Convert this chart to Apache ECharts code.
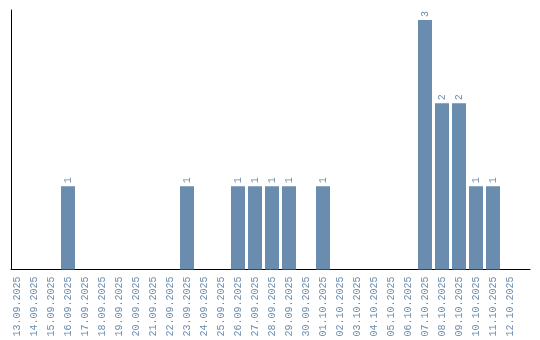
<!DOCTYPE html>
<html>
<head>
<meta charset="utf-8">
<script src="https://cdn.jsdelivr.net/npm/echarts@6/dist/echarts.min.js"></script>
<style>html,body{margin:0;padding:0;background:#fff;}#c{width:540px;height:340px;}</style>
</head>
<body>
<div id="c"></div>
<script>
const categories = ["13.09.2025","14.09.2025","15.09.2025","16.09.2025","17.09.2025","18.09.2025","19.09.2025","20.09.2025","21.09.2025","22.09.2025","23.09.2025","24.09.2025","25.09.2025","26.09.2025","27.09.2025","28.09.2025","29.09.2025","30.09.2025","01.10.2025","02.10.2025","03.10.2025","04.10.2025","05.10.2025","06.10.2025","07.10.2025","08.10.2025","09.10.2025","10.10.2025","11.10.2025","12.10.2025"];
const counts = [0,0,0,1,0,0,0,0,0,0,1,0,0,1,1,1,1,0,1,0,0,0,0,0,3,2,2,1,1,0];

const color = '#6a8caf';
const font = 'Liberation Mono';
const chart = echarts.init(document.getElementById('c'), null, {renderer:'canvas'});
chart.setOption({
  animation: false,
  grid: [
    {left: 8.5, width: 510, top: 20, bottom: 70.5},
    {left: 11, right: 10, top: 10, bottom: 70.5}
  ],
  xAxis: [
    {type:'category', gridIndex:0, data: categories,
     axisLine:{show:false}, axisTick:{show:false}, splitLine:{show:false},
     axisLabel:{rotate:90, interval:0, margin:7, color: color, fontFamily: font, fontSize:10}},
    {type:'value', gridIndex:1, min:0, max:1,
     axisLine:{show:true, onZero:false, lineStyle:{color:'#000', width:1}},
     axisTick:{show:false}, axisLabel:{show:false}, splitLine:{show:false}}
  ],
  yAxis: [
    {type:'value', gridIndex:0, min:0, max:3, show:false},
    {type:'value', gridIndex:1, min:0, max:1,
     axisLine:{show:true, onZero:false, lineStyle:{color:'#000', width:1}},
     axisTick:{show:false}, axisLabel:{show:false}, splitLine:{show:false}}
  ],
  series: [{
    type:'bar', xAxisIndex:0, yAxisIndex:0, data: counts, barWidth:14,
    itemStyle:{color: color},
    label:{show:true, position:'top', rotate:90, align:'left', verticalAlign:'middle', distance:3,
      color: color, fontFamily: font, fontSize:10,
      formatter: p => p.value ? String(p.value) : ''}
  }]
});
</script>
</body>
</html>
